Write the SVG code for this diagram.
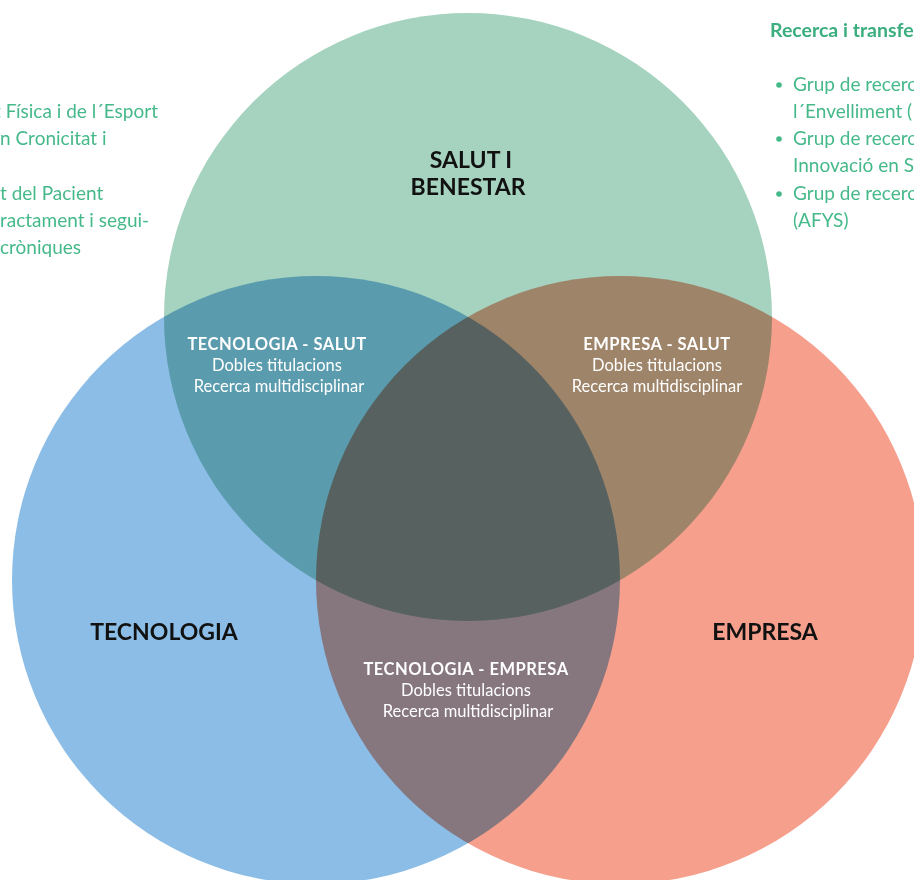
<svg xmlns="http://www.w3.org/2000/svg" width="914" height="880" viewBox="0 0 914 880">
<style>
.c{mix-blend-mode:multiply}
.big{font-family:Lato,"Open Sans","Liberation Sans",sans-serif;font-weight:700;font-size:23px;fill:#111;text-anchor:middle}
.ih{font-family:Lato,"Open Sans","Liberation Sans",sans-serif;font-weight:700;font-size:16.5px;letter-spacing:0.5px;fill:#fff;text-anchor:middle}
.ir{font-family:Lato,"Open Sans","Liberation Sans",sans-serif;font-weight:400;font-size:16.5px;fill:#fff;text-anchor:middle}
.side{font-family:Lato,"Open Sans","Liberation Sans",sans-serif;font-size:19px;fill:#45b98a}
.sideb{font-family:Lato,"Open Sans","Liberation Sans",sans-serif;font-size:19.5px;font-weight:700;fill:#3aae7e}
</style>
<rect width="914" height="880" fill="#fff"/>
<g id="circles" style="isolation:isolate">
<g id="salut"><circle class="c" cx="468" cy="317" r="304" fill="#a5d3c0"/></g>
<g id="tecnologia"><circle class="c" cx="316" cy="580" r="304" fill="#8bbde6"/></g>
<g id="empresa"><circle class="c" cx="620" cy="580" r="304" fill="#f59f8c"/></g>
</g>
<g id="labels">
<text class="big" x="471" y="168">SALUT I</text>
<text class="big" x="468" y="195">BENESTAR</text>
<text class="big" x="164" y="640">TECNOLOGIA</text>
<text class="big" x="765" y="640">EMPRESA</text>
</g>
<g id="tec-salut">
<text class="ih" x="277" y="350">TECNOLOGIA - SALUT</text>
<text class="ir" x="277" y="371">Dobles titulacions</text>
<text class="ir" x="279" y="392">Recerca multidisciplinar</text>
</g>
<g id="emp-salut">
<text class="ih" x="657" y="350">EMPRESA - SALUT</text>
<text class="ir" x="657" y="371">Dobles titulacions</text>
<text class="ir" x="657" y="392">Recerca multidisciplinar</text>
</g>
<g id="tec-emp">
<text class="ih" x="466" y="675">TECNOLOGIA - EMPRESA</text>
<text class="ir" x="466" y="696">Dobles titulacions</text>
<text class="ir" x="468" y="717">Recerca multidisciplinar</text>
</g>
<g id="left-text">
<text class="side" x="158" y="118" text-anchor="end">t Física i de l´Esport</text>
<text class="side" x="0" y="145">n Cronicitat i</text>
<text class="side" x="0" y="200">t del Pacient</text>
<text class="side" x="0" y="227">ractament i segui-</text>
<text class="side" x="0" y="254">cròniques</text>
</g>
<g id="right-text">
<text class="sideb" x="770" y="37">Recerca i transfe</text>
<circle cx="779" cy="85" r="2.8" fill="#45b98a"/>
<text class="side" x="793" y="91">Grup de recerc</text>
<text class="side" x="793" y="118">l´Envelliment (</text>
<circle cx="779" cy="139" r="2.8" fill="#45b98a"/>
<text class="side" x="793" y="145">Grup de recerc</text>
<text class="side" x="793" y="172">Innovació en S</text>
<circle cx="779" cy="194" r="2.8" fill="#45b98a"/>
<text class="side" x="793" y="200">Grup de recerc</text>
<text class="side" x="793" y="227">(AFYS)</text>
</g>
</svg>
